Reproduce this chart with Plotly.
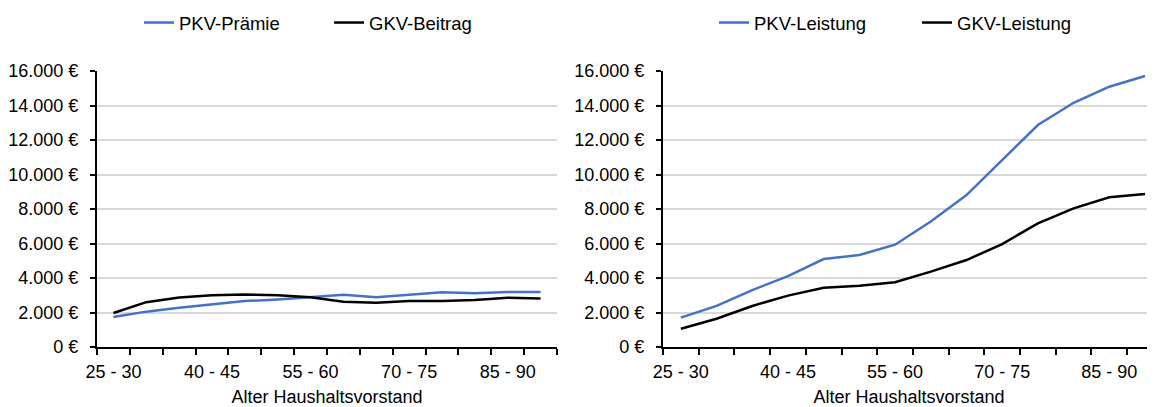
import plotly.graph_objects as go

categories = ["25 - 30", "30 - 35", "35 - 40", "40 - 45", "45 - 50", "50 - 55", "55 - 60",
              "60 - 65", "65 - 70", "70 - 75", "75 - 80", "80 - 85", "85 - 90", "90 - 95"]

pkv_praemie = [1740, 2050, 2280, 2480, 2660, 2760, 2900, 3030, 2880, 3020, 3170, 3120, 3190, 3190]
gkv_beitrag = [1970, 2600, 2870, 3000, 3050, 3000, 2880, 2630, 2570, 2660, 2660, 2720, 2860, 2810]

pkv_leistung = [1700, 2380, 3300, 4110, 5100, 5330, 5930, 7270, 8810, 10840, 12870, 14160, 15090, 15710]
gkv_leistung = [1060, 1640, 2380, 2980, 3440, 3550, 3750, 4370, 5040, 5970, 7170, 8040, 8680, 8870]

y_ticks = [0, 2000, 4000, 6000, 8000, 10000, 12000, 14000, 16000]
y_tick_text = ["0 €", "2.000 €", "4.000 €", "6.000 €", "8.000 €", "10.000 €",
               "12.000 €", "14.000 €", "16.000 €"]
shown_labels = [0, 3, 6, 9, 12]

BLUE = "#4472C4"
BLACK = "#000000"
FONT = "Liberation Sans, Arial, sans-serif"
FS = 18
FS_LEG = 18.5

x_idx = list(range(len(categories)))

fig = go.Figure()
fig.add_trace(go.Scatter(x=x_idx, y=pkv_praemie, mode="lines", name="PKV-Prämie",
                         line=dict(color=BLUE, width=2.5), xaxis="x", yaxis="y", legend="legend"))
fig.add_trace(go.Scatter(x=x_idx, y=gkv_beitrag, mode="lines", name="GKV-Beitrag",
                         line=dict(color=BLACK, width=2.5), xaxis="x", yaxis="y", legend="legend"))
fig.add_trace(go.Scatter(x=x_idx, y=pkv_leistung, mode="lines", name="PKV-Leistung",
                         line=dict(color=BLUE, width=2.5), xaxis="x2", yaxis="y2", legend="legend2"))
fig.add_trace(go.Scatter(x=x_idx, y=gkv_leistung, mode="lines", name="GKV-Leistung",
                         line=dict(color=BLACK, width=2.5), xaxis="x2", yaxis="y2", legend="legend2"))

# the page body adds an 8px offset; figure coordinates are compensated for it
OFF = 8
W, H = 1155 - OFF, 407 - OFF
L1, R1 = 97 - OFF, 557 - OFF
L2, R2 = 663 - OFF, W
TOP = 71 - OFF
PLOT_H = 276


def xaxis_cfg(l, r, rng, anchor):
    return dict(
        domain=[l / W, r / W], anchor=anchor, range=rng, automargin=False,
        tickmode="array", tickvals=[x_idx[i] for i in shown_labels],
        ticktext=[categories[i] for i in shown_labels],
        ticks="", showgrid=False, zeroline=False,
        showline=True, linecolor="black", linewidth=2,
        ticklabelstandoff=7,
        tickfont=dict(family=FONT, size=FS, color="black"),
        minor=dict(tickmode="linear", tick0=-0.5, dtick=1, ticks="outside",
                   ticklen=6, tickwidth=2, tickcolor="black", showgrid=False),
        title=dict(text="Alter Haushaltsvorstand", standoff=15,
                   font=dict(family=FONT, size=FS, color="black")),
    )


def yaxis_cfg(anchor):
    return dict(
        anchor=anchor, range=[0, 16000], automargin=False,
        tickmode="array", tickvals=y_ticks, ticktext=y_tick_text,
        ticks="outside", ticklen=5, tickwidth=2, tickcolor="black",
        showline=True, linecolor="black", linewidth=2,
        showgrid=True, gridcolor="#d9d9d9", gridwidth=1.5, zeroline=False,
        ticklabelstandoff=8,
        tickfont=dict(family=FONT, size=FS, color="black"),
    )


def legend_cfg(xpx, ew):
    return dict(orientation="h", x=xpx / W, xanchor="left",
                y=(TOP - (23 - OFF)) / PLOT_H + 1.0, yanchor="middle",
                xref="paper", yref="paper", font=dict(family=FONT, size=FS_LEG, color="black"),
                entrywidth=ew, entrywidthmode="pixels", bgcolor="rgba(0,0,0,0)")


fig.update_layout(
    width=W, height=H,
    margin=dict(l=0, r=0, t=TOP, b=H - TOP - PLOT_H, autoexpand=False),
    paper_bgcolor="white", plot_bgcolor="white",
    xaxis=xaxis_cfg(L1, R1, [-0.5, 13.5], "y"),
    yaxis=yaxis_cfg("x"),
    xaxis2=xaxis_cfg(L2, R2, [-0.5, 13.28], "y2"),
    yaxis2=yaxis_cfg("x2"),
    legend=legend_cfg(139 - OFF, 145),
    legend2=legend_cfg(714 - OFF, 158),
    showlegend=True,
)

fig.write_html("out.html")
